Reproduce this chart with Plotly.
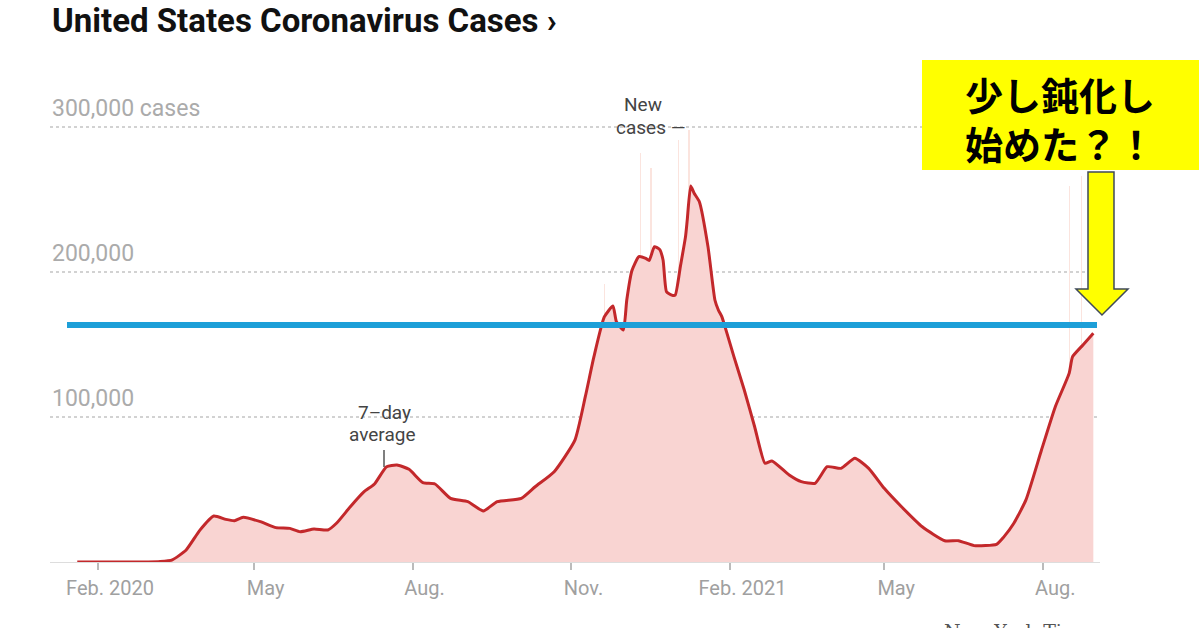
import plotly.graph_objects as go
import pandas as pd

# ---------------- data ----------------
avg_dates = [
    "2020-01-20", "2020-03-01", "2020-03-08", "2020-03-15", "2020-03-23", "2020-03-31",
    "2020-04-08", "2020-04-15", "2020-04-20", "2020-04-25", "2020-05-05", "2020-05-14",
    "2020-05-22", "2020-05-28", "2020-06-05", "2020-06-13", "2020-06-18", "2020-06-26",
    "2020-07-04", "2020-07-10", "2020-07-17", "2020-07-23", "2020-07-30", "2020-08-07",
    "2020-08-14", "2020-08-23", "2020-09-02", "2020-09-11", "2020-09-19", "2020-10-03",
    "2020-10-11", "2020-10-22", "2020-11-03", "2020-11-09", "2020-11-14", "2020-11-20",
    "2020-11-25", "2020-11-27", "2020-12-01", "2020-12-03", "2020-12-06", "2020-12-10",
    "2020-12-14", "2020-12-16", "2020-12-19", "2020-12-22", "2020-12-24", "2020-12-26",
    "2020-12-29", "2020-12-31", "2021-01-03", "2021-01-06", "2021-01-07", "2021-01-09",
    "2021-01-11", "2021-01-14", "2021-01-19", "2021-01-23", "2021-01-25", "2021-01-27",
    "2021-01-30", "2021-02-03", "2021-02-09", "2021-02-15", "2021-02-21", "2021-02-25",
    "2021-03-07", "2021-03-14", "2021-03-22", "2021-03-29", "2021-04-06", "2021-04-14",
    "2021-04-22", "2021-05-01", "2021-05-11", "2021-05-23", "2021-06-05", "2021-06-13",
    "2021-06-22", "2021-07-05", "2021-07-09", "2021-07-15", "2021-07-22", "2021-07-31",
    "2021-08-08", "2021-08-16", "2021-08-18", "2021-08-24", "2021-08-30",
]
avg_cases = [
    0, 0, 300, 1500, 8300, 22000,
    31700, 29400, 28500, 30800, 27800, 23700,
    23200, 20900, 22800, 22100, 26700, 38100,
    48500, 53800, 65700, 66900, 63900, 54700,
    53800, 43900, 41600, 35200, 41600, 43900,
    51900, 62300, 84100, 114000, 141600, 169000,
    176500, 165700, 160000, 180700, 201000, 210600,
    209400, 208000, 217500, 215600, 208300, 186400,
    184100, 184000, 203700, 224400, 235900, 259300,
    254300, 248500, 217500, 180700, 173800, 169200,
    157700, 141600, 118600, 93300, 68100, 69700,
    60000, 55400, 54300, 65700, 64600, 71500,
    64600, 50800, 38100, 24300, 14700, 14700,
    11300, 12200, 17000, 26700, 42800, 77200,
    107100, 130100, 141600, 149700, 157700,
]

# a few visible daily "new cases" spikes
spike_dates = ["2020-11-20", "2020-12-11", "2020-12-17", "2021-01-02", "2021-01-08",
               "2021-08-16", "2021-08-23"]
spike_cases = [192000, 282000, 272000, 291000, 298000, 259000, 266000]

tick_dates = ["2020-02-01", "2020-05-01", "2020-08-01", "2020-11-01",
              "2021-02-01", "2021-05-01", "2021-08-01"]
tick_labels = ["Feb. 2020", "May", "Aug.", "Nov.", "Feb. 2021", "May", "Aug."]

y_grid = [100000, 200000, 300000]
y_labels = ["100,000", "200,000", "300,000 cases"]

reference_level = 163500
callout_lines = ["少し鈍化し", "始めた？！"]
title_text = "United States Coronavirus Cases ›"

# ---------------- layout geometry ----------------
W, H = 1200, 628
L, R, T, B = 50, 100, 60, 66
PX_PER_DAY = 1.728
anchor = pd.Timestamp("2020-02-01")
anchor_px = 98
x_start = anchor + pd.Timedelta(days=(L - anchor_px) / PX_PER_DAY)
x_end = anchor + pd.Timedelta(days=(W - R - anchor_px) / PX_PER_DAY)
PX_PER_CASE = 145 / 100000
y_top = (H - B - T) / PX_PER_CASE

PW, PH = W - L - R, H - T - B


def px(x):
    return (x - L) / PW


def py(y):
    return (H - B - y) / PH


FONT = "Roboto, Liberation Sans, sans-serif"

fig = go.Figure()

fig.add_trace(go.Bar(
    x=spike_dates, y=spike_cases,
    marker=dict(color="rgba(246,196,182,0.45)", line=dict(width=0)),
    width=0.7 * 86400000, hoverinfo="skip", showlegend=False,
))

fig.add_trace(go.Scatter(
    x=avg_dates, y=avg_cases, mode="lines",
    line=dict(color="#c3282b", width=3, shape="spline", smoothing=0.5),
    fill="tozeroy", fillcolor="#f9d4d2",
    hoverinfo="skip", showlegend=False,
))

annotations = []
# y labels
for v, lab in zip(y_grid, y_labels):
    annotations.append(dict(
        x=0, xref="paper", y=v, yref="y", xanchor="left", yanchor="bottom",
        yshift=3, text=lab, showarrow=False,
        font=dict(family="Roboto, sans-serif", size=23, color="#ababab"),
    ))

# title
annotations.append(dict(
    x=0, xref="paper", y=py(20), yref="paper", xanchor="left", yanchor="middle",
    text=title_text, showarrow=False,
    font=dict(family=FONT, size=33, color="#111111", weight="bold"),
))

label_font = dict(family=FONT, size=19, color="#444444")
annotations += [
    dict(x=px(384), y=py(412), xref="paper", yref="paper", text="7–day",
         showarrow=False, font=label_font, xanchor="center", yanchor="middle"),
    dict(x=px(383), y=py(434), xref="paper", yref="paper", text="average",
         showarrow=False, font=label_font, xanchor="center", yanchor="middle"),
    dict(x=px(643), y=py(104), xref="paper", yref="paper", text="New",
         showarrow=False, font=label_font, xanchor="center", yanchor="middle"),
    dict(x=px(614), y=py(127), xref="paper", yref="paper", text="cases —",
         showarrow=False, font=label_font, xanchor="left", yanchor="middle"),
]

# callout text (two lines in one block)
annotations.append(dict(
    x=px(1060), y=py(118), xref="paper", yref="paper", text="<br>".join(callout_lines),
    showarrow=False, xanchor="center", yanchor="middle", align="center",
    font=dict(family="Noto Sans CJK JP", size=38, color="#000000", weight="bold"),
))

# source (cut off at bottom)
annotations.append(dict(
    x=px(1022), y=py(631), xref="paper", yref="paper", text="New York Times",
    showarrow=False, xanchor="center", yanchor="middle",
    font=dict(family="DejaVu Serif, serif", size=19, color="#555555"),
))

shapes = [
    # pointer line under "7-day average"
    dict(type="line", xref="paper", yref="paper", x0=px(384), x1=px(384),
         y0=py(450), y1=py(467), line=dict(color="#555555", width=1.5)),
    # blue reference line
    dict(type="line", xref="paper", yref="y", x0=px(67), x1=px(1097),
         y0=reference_level, y1=reference_level,
         line=dict(color="#1d9fd8", width=6)),
    # yellow callout box
    dict(type="rect", xref="paper", yref="paper", x0=px(922), x1=px(1199),
         y0=py(170), y1=py(60), fillcolor="#ffff00", line=dict(width=0), layer="above"),
]

# yellow down arrow
pts = [(1088, 172), (1114, 172), (1114, 289), (1128, 289), (1102, 315),
       (1076, 289), (1088, 289)]
path = "M " + " L ".join(f"{px(a):.5f},{py(b):.5f}" for a, b in pts) + " Z"
shapes.append(dict(type="path", xref="paper", yref="paper", path=path,
                   fillcolor="#ffff00", line=dict(color="#3f4a58", width=1.5),
                   layer="above"))

fig.update_layout(
    width=W, height=H,
    margin=dict(l=L, r=R, t=T, b=B),
    paper_bgcolor="white", plot_bgcolor="white",
    showlegend=False, bargap=0,
    annotations=annotations, shapes=shapes,
    xaxis=dict(
        type="date", range=[x_start, x_end],
        tickvals=tick_dates, ticktext=tick_labels,
        ticks="outside", ticklen=7, tickwidth=1.5, tickcolor="#bbbbbb",
        tickfont=dict(family=FONT, size=20, color="#a0a0a0"),
        ticklabelshift=12, ticklabelstandoff=1,
        showgrid=False, showline=True, linecolor="#dddddd", linewidth=1,
        zeroline=False, fixedrange=True,
    ),
    yaxis=dict(
        range=[0, y_top], tickvals=y_grid, showticklabels=False,
        showgrid=True, gridcolor="#d2d2d2", griddash="dot", gridwidth=1.5,
        zeroline=False, showline=False, ticks="", fixedrange=True,
    ),
)

fig.write_html("out.html", config={"displayModeBar": False},
               post_script="document.body.style.margin='0';")
